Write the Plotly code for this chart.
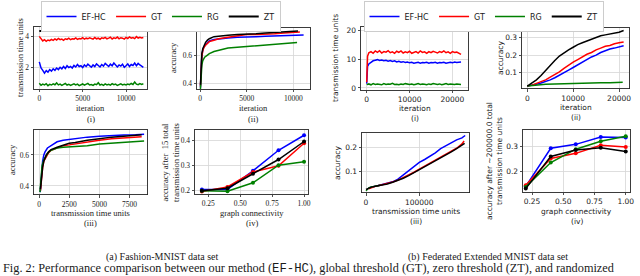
import plotly.graph_objects as go

W, H = 640, 276

# ---------------- data ----------------
series_names = ["EF-HC", "GT", "RG", "ZT"]
series_colors = ["#0000ff", "#ff0000", "#008000", "#000000"]

# ---- (a) Fashion-MNIST ----
# (i) transmission time units per iteration
fm_i_iter = [0, 200, 400, 600, 800, 1000, 1200, 1400, 1600, 1800, 2000, 2200, 2400, 2600, 2800,
             3000, 3200, 3400, 3600, 3800, 4000, 4200, 4400, 4600, 4800, 5000, 5200, 5400, 5600,
             5800, 6000, 6200, 6400, 6600, 6800, 7000, 7200, 7400, 7600, 7800, 8000, 8200, 8400,
             8600, 8800, 9000, 9200, 9400, 9600, 9800, 10000, 10200, 10400, 10600, 10800, 11000,
             11200, 11400, 11600, 11800, 12000]
fm_i_efhc = [2.35, 1.95, 1.80, 1.62, 1.78, 1.68, 1.85, 1.75, 1.90, 1.80,
             1.95, 1.85, 2.00, 1.90, 2.05, 1.92, 2.10, 1.98, 2.05, 1.95,
             2.12, 2.02, 2.18, 2.05, 2.10, 1.98, 2.15, 2.05, 2.20, 2.08,
             2.00, 2.15, 2.05, 2.22, 2.10, 2.02, 2.18, 2.08, 2.25, 2.12,
             2.05, 2.20, 2.10, 2.28, 2.12, 2.02, 2.15, 2.08, 2.20, 2.00,
             2.10, 2.22, 2.05, 2.18, 2.12, 2.28, 2.10, 2.25, 2.15, 2.05,
             2.00]
fm_i_gt = [4.02, 3.85, 3.72, 3.80, 3.70, 3.78, 3.74, 3.82, 3.76, 3.85,
           3.78, 3.88, 3.80, 3.84, 3.76, 3.86, 3.82, 3.90, 3.80, 3.86,
           3.84, 3.92, 3.82, 3.88, 3.85, 3.93, 3.84, 3.90, 3.86, 3.92,
           3.88, 3.84, 3.94, 3.86, 3.90, 3.83, 3.92, 3.88, 3.95, 3.86,
           3.90, 3.96, 3.85, 3.92, 3.88, 3.97, 3.86, 3.93, 3.90, 3.84,
           3.95, 3.88, 3.98, 3.90, 3.94, 3.87, 4.00, 3.91, 3.96, 3.92,
           3.95]
fm_i_rg = [0.95, 0.82, 0.90, 0.85, 0.93, 0.80, 0.88, 0.84, 0.92, 0.86,
           0.98, 0.85, 0.90, 0.82, 0.88, 0.94, 0.84, 0.89, 0.81, 0.87,
           0.92, 0.85, 0.90, 0.80, 0.86, 0.91, 0.83, 0.88, 0.95, 0.84,
           0.87, 0.82, 0.90, 0.86, 0.99, 0.84, 0.88, 0.82, 0.91, 0.85,
           0.89, 0.83, 0.93, 0.86, 0.90, 0.81, 0.88, 0.92, 0.85, 0.89,
           0.84, 0.90, 0.86, 0.94, 0.88, 1.04, 0.90, 0.86, 0.93, 0.88,
           0.92]
fm_i_zt_iter = [0, 6000, 12000]
fm_i_zt = [4.37, 4.37, 4.37]

# (ii) accuracy vs iteration
fm_ii_efhc_x = [50, 100, 200, 300, 400, 600, 800, 1000, 1500, 2000, 3000, 4000, 5000, 6000, 7000, 8000, 9000, 10000, 11100]
fm_ii_efhc_y = [0.37, 0.50, 0.60, 0.635, 0.655, 0.675, 0.69, 0.70, 0.71, 0.715, 0.72, 0.725, 0.73, 0.73, 0.733, 0.735, 0.738, 0.74, 0.742]
fm_ii_gt_x = [50, 100, 200, 300, 400, 600, 800, 1000, 1500, 2000, 3000, 4000, 5000, 6000, 7000, 8000, 9000, 10000, 10700]
fm_ii_gt_y = [0.38, 0.50, 0.59, 0.63, 0.65, 0.67, 0.685, 0.695, 0.705, 0.715, 0.725, 0.735, 0.745, 0.745, 0.745, 0.75, 0.755, 0.76, 0.762]
fm_ii_rg_x = [50, 100, 200, 300, 500, 800, 1000, 1500, 2000, 3000, 4000, 5000, 6000, 7000, 8000, 9000, 10000, 10400]
fm_ii_rg_y = [0.36, 0.45, 0.53, 0.56, 0.585, 0.60, 0.61, 0.625, 0.635, 0.65, 0.655, 0.66, 0.665, 0.67, 0.675, 0.68, 0.685, 0.688]
fm_ii_zt_x = [50, 100, 200, 300, 400, 600, 800, 1000, 1500, 2000, 3000, 4000, 5000, 6000, 7000, 8000, 9000, 10000, 10500]
fm_ii_zt_y = [0.39, 0.52, 0.61, 0.645, 0.665, 0.69, 0.705, 0.715, 0.73, 0.735, 0.74, 0.745, 0.745, 0.75, 0.755, 0.76, 0.765, 0.768, 0.77]

# (iii) accuracy vs transmission time units
fm_iii_efhc_x = [100, 200, 300, 400, 500, 700, 1000, 1500, 2000, 3000, 4000, 5000, 6000, 7000, 8000, 8700]
fm_iii_efhc_y = [0.36, 0.48, 0.56, 0.60, 0.62, 0.645, 0.66, 0.685, 0.695, 0.705, 0.715, 0.72, 0.725, 0.728, 0.73, 0.733]
fm_iii_gt_x = [120, 200, 300, 400, 600, 800, 1000, 1500, 2000, 2500, 3000, 4000, 5000, 6000, 7000, 8000, 8500]
fm_iii_gt_y = [0.37, 0.45, 0.52, 0.56, 0.59, 0.615, 0.63, 0.645, 0.66, 0.665, 0.672, 0.685, 0.695, 0.705, 0.71, 0.715, 0.718]
fm_iii_rg_x = [80, 150, 250, 400, 600, 800, 1000, 1500, 2000, 3000, 4000, 5000, 6000, 7000, 8000, 8700]
fm_iii_rg_y = [0.36, 0.45, 0.53, 0.57, 0.60, 0.62, 0.63, 0.645, 0.65, 0.655, 0.66, 0.67, 0.675, 0.68, 0.685, 0.69]
fm_iii_zt_x = [120, 200, 300, 400, 600, 800, 1000, 1500, 2000, 2500, 3000, 4000, 5000, 6000, 7000, 8000, 8500]
fm_iii_zt_y = [0.38, 0.46, 0.52, 0.56, 0.60, 0.62, 0.635, 0.65, 0.665, 0.675, 0.68, 0.695, 0.705, 0.715, 0.72, 0.728, 0.73]

# (iv) accuracy vs graph connectivity
connectivity = [0.2, 0.4, 0.6, 0.8, 1.0]
fm_iv_efhc = [0.205, 0.205, 0.280, 0.362, 0.422]
fm_iv_gt = [0.197, 0.215, 0.275, 0.300, 0.390]
fm_iv_rg = [0.200, 0.198, 0.232, 0.302, 0.316]
fm_iv_zt = [0.200, 0.210, 0.268, 0.325, 0.397]

# ---- (b) Federated Extended MNIST ----
fe_i_iter = [0, 200, 500, 1000, 1500, 2000, 2500, 3000, 3500, 4000, 4500, 5000, 5500, 6000, 6500,
             7000, 7500, 8000, 8500, 9000, 9500, 10000, 10500, 11000, 11500, 12000, 12500, 13000,
             13500, 14000, 14500, 15000, 15500, 16000, 16500, 17000, 17500, 18000, 18500, 19000,
             19500, 20000, 20500, 21000, 21500, 22000]
fe_i_efhc = [1.5, 7.5, 8.3, 9.0, 9.4, 9.6, 9.8, 9.5, 9.7, 9.4,
             9.6, 9.3, 9.5, 9.2, 9.4, 9.0, 9.2, 8.9, 9.1, 8.8,
             9.0, 8.7, 8.9, 8.6, 8.8, 8.9, 8.6, 8.8, 8.7, 8.9,
             8.6, 8.8, 8.7, 8.9, 8.6, 8.8, 8.7, 8.9, 8.6, 8.8,
             8.9, 8.7, 9.0, 8.8, 8.9, 9.0]
fe_i_gt = [2.0, 11.0, 12.2, 12.6, 12.0, 12.8, 12.3, 12.9, 12.1, 12.6,
           12.4, 12.9, 12.2, 12.5, 12.0, 12.7, 12.3, 12.8, 12.1, 12.5,
           12.2, 12.7, 12.0, 12.4, 12.6, 12.1, 12.8, 12.3, 12.5, 12.0,
           12.6, 12.2, 12.7, 12.4, 12.1, 12.6, 12.3, 12.8, 12.2, 12.5,
           12.0, 12.6, 12.3, 12.4, 11.9, 11.6]
fe_i_rg = [1.3, 1.2, 1.4, 1.1, 1.5, 1.2, 1.4, 1.3, 1.1, 1.5,
           1.2, 1.4, 1.3, 1.6, 1.2, 1.3, 1.1, 1.4, 1.2, 1.5,
           1.3, 1.2, 1.4, 1.1, 1.3, 1.5, 1.2, 1.4, 1.3, 1.1,
           1.4, 1.2, 1.5, 1.3, 1.2, 1.4, 1.1, 1.3, 1.5, 1.2,
           1.4, 1.3, 1.2, 1.4, 1.3, 1.2]
fe_i_zt_iter = [0, 11000, 22000]
fe_i_zt = [20.0, 20.0, 20.0]

fe_ii_iter = [0, 1000, 2000, 3000, 4000, 5000, 6000, 7000, 8000, 9000, 10000, 11000,
              12000, 13000, 14000, 15000, 16000, 17000, 18000, 19000, 20000, 21000]
fe_ii_efhc = [0.025, 0.028, 0.035, 0.042, 0.050, 0.060, 0.072, 0.085, 0.100, 0.115, 0.130,
              0.145, 0.160, 0.175, 0.190, 0.200, 0.215, 0.225, 0.235, 0.240, 0.248, 0.253]
fe_ii_gt = [0.025, 0.030, 0.040, 0.050, 0.060, 0.075, 0.090, 0.105, 0.125, 0.145, 0.160,
            0.175, 0.190, 0.205, 0.215, 0.230, 0.240, 0.250, 0.255, 0.265, 0.270, 0.275]
fe_ii_zt = [0.025, 0.040, 0.060, 0.085, 0.115, 0.145, 0.170, 0.195, 0.215, 0.230, 0.245,
            0.260, 0.270, 0.280, 0.290, 0.300, 0.310, 0.315, 0.320, 0.325, 0.330, 0.340]
fe_ii_rg_iter = [0, 2000, 4000, 6000, 8000, 10000, 12000, 14000, 16000, 18000, 20000, 20800]
fe_ii_rg = [0.025, 0.032, 0.035, 0.037, 0.039, 0.040, 0.041, 0.042, 0.043, 0.044, 0.045, 0.046]

fe_iii_efhc_x = [5000, 10000, 20000, 30000, 40000, 50000, 60000, 70000, 80000, 90000, 100000,
                 110000, 120000, 130000, 140000, 150000, 160000, 170000, 180000, 186000]
fe_iii_efhc_y = [0.030, 0.035, 0.040, 0.045, 0.050, 0.057, 0.068, 0.085, 0.103, 0.120, 0.138,
                 0.150, 0.163, 0.178, 0.195, 0.207, 0.220, 0.232, 0.240, 0.250]
fe_iii_gt_x = [5000, 10000, 20000, 30000, 40000, 50000, 60000, 70000, 80000, 90000, 100000,
               110000, 120000, 130000, 140000, 150000, 160000, 170000, 180000, 184000]
fe_iii_gt_y = [0.028, 0.033, 0.040, 0.045, 0.050, 0.056, 0.064, 0.074, 0.085, 0.097, 0.110,
               0.122, 0.135, 0.148, 0.160, 0.173, 0.185, 0.197, 0.215, 0.227]
fe_iii_rg_x = [0, 3000, 6000, 10000, 15000, 20000, 25000, 27000]
fe_iii_rg_y = [0.020, 0.028, 0.033, 0.036, 0.038, 0.040, 0.042, 0.043]
fe_iii_zt_x = [0, 10000, 20000, 30000, 40000, 50000, 60000, 70000, 80000, 90000, 100000,
               110000, 120000, 130000, 140000, 150000, 160000, 170000, 180000, 185000]
fe_iii_zt_y = [0.025, 0.035, 0.040, 0.043, 0.048, 0.055, 0.063, 0.072, 0.083, 0.095, 0.108,
               0.120, 0.132, 0.145, 0.158, 0.170, 0.182, 0.195, 0.208, 0.217]

fe_iv_efhc = [0.137, 0.294, 0.310, 0.340, 0.338]
fe_iv_gt = [0.142, 0.252, 0.273, 0.306, 0.299]
fe_iv_rg = [0.135, 0.235, 0.290, 0.323, 0.343]
fe_iv_zt = [0.128, 0.260, 0.287, 0.296, 0.281]

# tick labels
fm_i_xticks = [0, 5000, 10000]
fm_i_yticks = [2, 4]
fm_ii_yticks = [0.4, 0.6]
fm_iii_xticks = [0, 2500, 5000, 7500]
conn_ticks = [0.25, 0.5, 0.75, 1.0]
conn_ticktext = ["0.25", "0.50", "0.75", "1.00"]
fm_iv_yticks = [0.2, 0.3, 0.4]
fe_i_xticks = [0, 10000, 20000]
fe_i_yticks = [0, 10, 20]
fe_ii_yticks = [0.1, 0.2, 0.3]
fe_iii_xticks = [0, 100000]
fe_iii_yticks = [0.1, 0.2]
fe_iv_yticks = [0.2, 0.3]

# ---------------- figure ----------------
fig = go.Figure()

SERIF = "Liberation Serif"
SANS = "DejaVu Sans"
TXT = "#1a1a1a"

# pixel boxes (left, right, top, bottom) -> domains
boxes = {
    1: (34, 147, 27, 89),
    2: (197, 310, 28, 89),
    3: (34, 147, 130, 194.5),
    4: (195, 308, 130, 194),
    5: (361, 468, 27, 90),
    6: (522, 629, 28, 88.5),
    7: (362, 469, 132.5, 192.5),
    8: (523, 630, 130, 192),
}


def add(ax, x, y, k, legend=None, markers=False, width=1.5):
    suffix = "" if ax == 1 else str(ax)
    fig.add_trace(go.Scatter(
        x=x, y=y, mode="lines+markers" if markers else "lines",
        name=series_names[k],
        line=dict(color=series_colors[k], width=width),
        marker=dict(size=4, color=series_colors[k]),
        xaxis="x" + suffix, yaxis="y" + suffix,
        showlegend=legend is not None,
        legend=legend if legend else "legend",
        hoverinfo="skip",
    ))


# Fashion-MNIST
add(1, fm_i_iter, fm_i_efhc, 0, legend="legend")
add(1, fm_i_iter, fm_i_gt, 1, legend="legend")
add(1, fm_i_iter, fm_i_rg, 2, legend="legend")
add(1, fm_i_zt_iter, fm_i_zt, 3, legend="legend", width=2)

add(2, fm_ii_efhc_x, fm_ii_efhc_y, 0)
add(2, fm_ii_gt_x, fm_ii_gt_y, 1)
add(2, fm_ii_rg_x, fm_ii_rg_y, 2)
add(2, fm_ii_zt_x, fm_ii_zt_y, 3)

add(3, fm_iii_efhc_x, fm_iii_efhc_y, 0)
add(3, fm_iii_gt_x, fm_iii_gt_y, 1)
add(3, fm_iii_rg_x, fm_iii_rg_y, 2)
add(3, fm_iii_zt_x, fm_iii_zt_y, 3)

add(4, connectivity, fm_iv_efhc, 0, markers=True)
add(4, connectivity, fm_iv_gt, 1, markers=True)
add(4, connectivity, fm_iv_rg, 2, markers=True)
add(4, connectivity, fm_iv_zt, 3, markers=True)

# Federated EMNIST
add(5, fe_i_iter, fe_i_efhc, 0, legend="legend2")
add(5, fe_i_iter, fe_i_gt, 1, legend="legend2")
add(5, fe_i_iter, fe_i_rg, 2, legend="legend2")
add(5, fe_i_zt_iter, fe_i_zt, 3, legend="legend2", width=2)

add(6, fe_ii_iter, fe_ii_efhc, 0)
add(6, fe_ii_iter, fe_ii_gt, 1)
add(6, fe_ii_rg_iter, fe_ii_rg, 2)
add(6, fe_ii_iter, fe_ii_zt, 3)

add(7, fe_iii_efhc_x, fe_iii_efhc_y, 0)
add(7, fe_iii_gt_x, fe_iii_gt_y, 1)
add(7, fe_iii_rg_x, fe_iii_rg_y, 2)
add(7, fe_iii_zt_x, fe_iii_zt_y, 3)

add(8, connectivity, fe_iv_efhc, 0, markers=True)
add(8, connectivity, fe_iv_gt, 1, markers=True)
add(8, connectivity, fe_iv_rg, 2, markers=True)
add(8, connectivity, fe_iv_zt, 3, markers=True)


def axis(ax, kind, rng, ticks, ticktext, fam):
    l, r, t, b = boxes[ax]
    if kind == "x":
        dom = [l / W, r / W]
    else:
        dom = [1 - b / H, 1 - t / H]
    suffix = "" if ax == 1 else str(ax)
    other = "y" if kind == "x" else "x"
    d = dict(
        domain=dom, range=rng, anchor=other + suffix, automargin=False,
        showline=True, mirror=True, linecolor="#262626", linewidth=0.9,
        showgrid=True, gridcolor="#d6d6d6", gridwidth=0.8, zeroline=False,
        ticks="outside", ticklen=2.5, tickwidth=0.8, tickcolor="#262626",
        tickfont=dict(family=fam, size=7.5, color=TXT),
        tickvals=ticks, ticktext=ticktext if ticktext else [str(v) for v in ticks],
        fixedrange=True,
    )
    return d


L = {}
L["xaxis"] = axis(1, "x", [-611, 12420], fm_i_xticks, None, SERIF)
L["yaxis"] = axis(1, "y", [0.58, 4.63], fm_i_yticks, None, SERIF)
L["xaxis2"] = axis(2, "x", [-321, 11785], fm_i_xticks, None, SERIF)
L["yaxis2"] = axis(2, "y", [0.360, 0.791], fm_ii_yticks, None, SERIF)
L["xaxis3"] = axis(3, "x", [-414, 8940], fm_iii_xticks, None, SERIF)
L["yaxis3"] = axis(3, "y", [0.345, 0.761], fm_ii_yticks, None, SERIF)
L["xaxis4"] = axis(4, "x", [0.146, 1.031], conn_ticks, conn_ticktext, SERIF)
L["yaxis4"] = axis(4, "y", [0.187, 0.443], fm_iv_yticks, None, SERIF)
L["xaxis5"] = axis(5, "x", [-1330, 23630], fe_i_xticks, None, SANS)
L["yaxis5"] = axis(5, "y", [-0.7, 21.1], fe_i_yticks, None, SANS)
L["xaxis6"] = axis(6, "x", [-1150, 22170], fe_i_xticks, None, SANS)
L["yaxis6"] = axis(6, "y", [0.011, 0.354], fe_ii_yticks, None, SANS)
L["xaxis7"] = axis(7, "x", [-7500, 193200], fe_iii_xticks, None, SANS)
L["yaxis7"] = axis(7, "y", [0.0125, 0.2625], fe_iii_yticks, None, SANS)
L["xaxis8"] = axis(8, "x", [0.178, 1.034], conn_ticks, conn_ticktext, SANS)
L["yaxis8"] = axis(8, "y", [0.114, 0.369], fe_iv_yticks, None, SANS)

ann = []


def text(px, py, s, fam, size, angle=0, xanchor="center"):
    ann.append(dict(
        x=px / W, y=1 - py / H, xref="paper", yref="paper", text=s, showarrow=False,
        xanchor=xanchor, yanchor="middle", textangle=angle,
        font=dict(family=fam, size=size, color=TXT),
    ))


# left (Fashion-MNIST) labels
text(20, 58, "transmission time units", SERIF, 8.5, -90)
text(90.5, 107.5, "iteration", SERIF, 8.5)
text(90.5, 118.5, "(i)", SERIF, 8.5)
text(173, 58, "accuracy", SERIF, 8.5, -90)
text(253.5, 108, "iteration", SERIF, 8.5)
text(253.5, 119, "(ii)", SERIF, 8.5)
text(12, 160, "accuracy", SERIF, 8.5, -90)
text(90.5, 212.5, "transmission time units", SERIF, 8.5)
text(90.5, 222.5, "(iii)", SERIF, 8.5)
text(170, 163, "accuracy after\u00a0 15 total<br>transmission time units", SERIF, 8.5, -90)
text(251.5, 212.5, "graph connectivity", SERIF, 8.5)
text(251.5, 222.5, "(iv)", SERIF, 8.5)

# right (Federated EMNIST) labels
text(335, 58, "transmission time units", SANS, 7.5, -90)
text(414.5, 108.5, "iteration", SANS, 7.5)
text(414.5, 118, "(i)", SANS, 7.5)
text(500, 58, "accuracy", SANS, 7.5, -90)
text(575.5, 107.5, "iteration", SANS, 7.5)
text(575.5, 117.5, "(ii)", SANS, 7.5)
text(337, 163, "accuracy", SANS, 7.5, -90)
text(415.5, 211, "transmission time units", SANS, 7.5)
text(415.5, 221, "(iii)", SANS, 7.5)
text(494, 161, "accuracy after ~200000.0 total<br>transmission time units", SANS, 7.5, -90)
text(576.5, 211.5, "graph connectivity", SANS, 7.5)
text(576.5, 221.5, "(iv)", SANS, 7.5)

# captions
text(162, 257, "(a) Fashion-MNIST data set", SERIF, 10)
text(488, 257, "(b) Federated Extended MNIST data set", SERIF, 10)
text(1, 268.5, "Fig. 2: Performance comparison between our method (<span style=\"font-family:Liberation Mono\">EF-HC</span>), "
     "global threshold (GT), zero threshold (ZT), and randomized", SERIF, 12.3, xanchor="left")

legend_style = dict(
    orientation="h", xanchor="center", yanchor="top",
    bordercolor="#cccccc", borderwidth=1, bgcolor="white",
    font=dict(family=SANS, size=8, color=TXT),
    tracegroupgap=0, itemwidth=30,
)

fig.update_layout(
    width=W, height=H,
    margin=dict(l=0, r=0, t=0, b=0, autoexpand=False),
    paper_bgcolor="white", plot_bgcolor="white",
    annotations=ann,
    legend=dict(x=160.5 / W, y=1 - 1 / H, **legend_style),
    legend2=dict(x=483.5 / W, y=1 - 1 / H, **legend_style),
    **L,
)

fig.write_html(
    "out.html",
    config={"displayModeBar": False, "staticPlot": True},
    post_script="document.body.style.margin='0px';document.body.style.overflow='hidden';",
)
